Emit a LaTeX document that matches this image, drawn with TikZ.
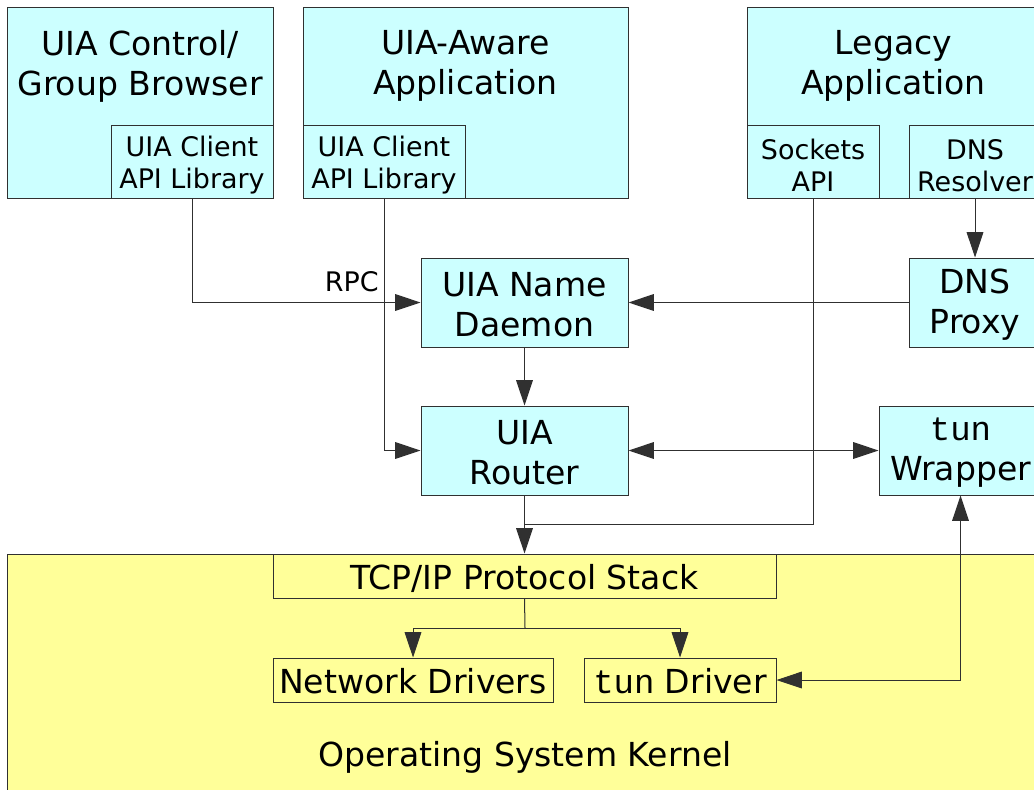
\documentclass[tikz,border=0pt]{standalone}
\usepackage{fontspec}
\setmainfont{DejaVu Sans}
\newfontfamily\tunfont{Liberation Mono}
\usetikzlibrary{arrows.meta}
\definecolor{cyanbg}{HTML}{CCFFFF}
\definecolor{yellowbg}{HTML}{FFFF99}
\definecolor{lc}{HTML}{303030}
\newcommand\bigf{\fontsize{24.8pt}{30pt}\selectfont}
\newcommand\smallf{\fontsize{20.2pt}{24pt}\selectfont}
\newcommand\tun{{\tunfont\fontsize{25.5pt}{30pt}\selectfont tun}}
% name, x1, y1, x2, y2, text, box style, text style, text shift
\newcommand\bx[9]{%
  \node[#7, minimum width={(#4-#2)*0.75pt}, minimum height={(#5-#3)*0.75pt}] (#1) at ({(#2+#4)/2},{(#3+#5)/2}) {};
  \node[txt, #8] (#1-t) at ({(#2+#4)/2},{(#3+#5)/2+#9}) {#6};}
\tikzset{
  cbox/.style={draw=lc, line width=0.75pt, fill=cyanbg, inner sep=0pt},
  ybox/.style={draw=lc, line width=0.75pt, fill=yellowbg, inner sep=0pt},
  bigt/.style={font=\bigf},
  smallt/.style={font=\smallf},
  txt/.style={inner sep=0pt, align=center},
  conn/.style={draw=lc, line width=0.75pt},
  arr/.style={conn, -{Triangle[length=19pt,width=12.5pt]}},
  darr/.style={conn, {Triangle[length=19pt,width=12.5pt]}-{Triangle[length=19pt,width=12.5pt]}},
}
\begin{document}
\begin{tikzpicture}[x=0.75pt,y=-0.75pt]
\useasboundingbox (0,0) rectangle (1034,789);
\fill[white] (0,0) rectangle (1034,789);
% application boxes
\bx{app1}{7}{7}{273}{198}{}{cbox}{}{0}
\bx{app2}{303}{7}{628}{198}{}{cbox}{}{0}
\bx{app3}{747}{7}{1041}{198}{}{cbox}{}{0}
\node[txt, bigt] (t1) at (140,66) {UIA Control/\\Group Browser};
\node[txt, bigt] (t2) at (465.5,66) {UIA-Aware\\Application};
\node[txt, bigt] (t3) at (893.5,66) {Legacy\\Application};
\bx{lib1}{111}{125}{273}{198}{UIA Client\\API Library}{cbox}{smallt}{4}
\bx{lib2}{303}{125}{465}{198}{UIA Client\\API Library}{cbox}{smallt}{4}
\bx{sock}{747}{125}{879}{198}{Sockets\\API}{cbox}{smallt}{4}
\bx{resolver}{909}{125}{1041}{198}{DNS\\Resolver}{cbox}{smallt}{4}
% middle boxes
\bx{daemon}{421}{258}{628}{347}{UIA Name\\Daemon}{cbox}{bigt}{2.5}
\bx{proxy}{909}{258}{1041}{347}{DNS\\Proxy}{cbox}{bigt}{2.5}
\bx{router}{421}{406}{628}{495}{UIA\\Router}{cbox}{bigt}{2.5}
\bx{wrapper}{879}{406}{1042}{495}{\tun\\Wrapper}{cbox}{bigt}{2.5}
% kernel
\bx{kernel}{7}{554}{1041}{796}{}{ybox}{}{0}
\node[txt, bigt] (ktext) at (525,757) {Operating System Kernel};
\bx{tcp}{273}{554}{776}{598}{TCP/IP Protocol Stack}{ybox}{bigt}{2}
\bx{netdrv}{273}{658}{553}{702}{Network Drivers}{ybox}{bigt}{1}
\bx{tundrv}{584}{658}{776}{702}{\tun\ Driver}{ybox}{bigt}{1}
% connectors
\draw[arr] (lib1.south) |- (daemon.west);
\node[txt, smallt, anchor=base east] (rpc) at (379,291) {RPC};
\draw[arr] (lib2.south) |- (router.west);
\draw[arr] (daemon.south) -- (router.north);
\draw[darr] (router.east) -- (wrapper.west);
\draw[arr] (resolver.south) -- (proxy.north);
\draw[arr] (proxy.west) -- (daemon.east);
\coordinate (j) at (525,524);
\draw[conn] (sock.south) |- (j);
\draw[arr] (router.south) -- (tcp.north);
\coordinate (b) at (525,628);
\draw[conn] (tcp.south) -- (b);
\draw[arr] (b) -| (netdrv.north);
\draw[arr] (b) -| (tundrv.north);
\draw[darr] (tundrv.east) -| (wrapper.south);
\end{tikzpicture}
\end{document}
